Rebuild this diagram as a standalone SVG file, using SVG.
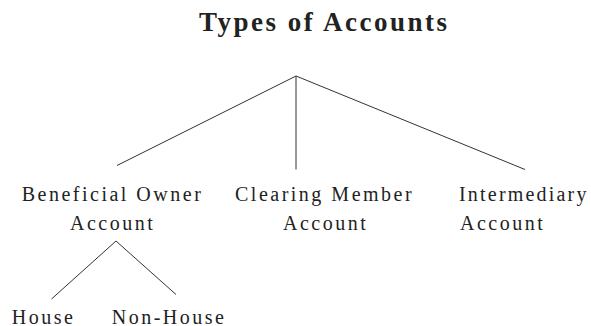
<svg xmlns="http://www.w3.org/2000/svg" width="591" height="326" viewBox="0 0 591 326">
<style>
.t{font-family:"Times New Roman","Liberation Serif","DejaVu Serif",serif;font-size:20px;letter-spacing:2.5px;fill:#222}
.h{font-family:"Times New Roman","Liberation Serif","DejaVu Serif",serif;font-size:27px;font-weight:bold;letter-spacing:2.5px;fill:#222}
.c{stroke:#333;stroke-width:1;fill:none}
</style>
<rect width="591" height="326" fill="#fff"/>
<g id="title"><text class="h" x="199" y="31">Types of Accounts</text></g>
<g id="connectors">
<line class="c" x1="296" y1="76" x2="117" y2="165.5"/>
<line class="c" x1="296" y1="76" x2="296" y2="169.5"/>
<line class="c" x1="296" y1="76" x2="525" y2="169.5"/>
<line class="c" x1="116" y1="241" x2="51.5" y2="299"/>
<line class="c" x1="116" y1="241" x2="176" y2="294.5"/>
</g>
<g id="beneficial"><text class="t" x="21.7" y="200.5">Beneficial Owner</text><text class="t" x="70" y="229.5">Account</text></g>
<g id="clearing"><text class="t" x="235" y="200.5">Clearing Member</text><text class="t" x="283" y="229.5">Account</text></g>
<g id="intermediary"><text class="t" x="459" y="200.5" style="letter-spacing:2.2px">Intermediary</text><text class="t" x="460" y="229.5">Account</text></g>
<g id="house"><text class="t" x="11.7" y="323.5">House</text></g>
<g id="nonhouse"><text class="t" x="111.7" y="323.5">Non-House</text></g>
</svg>
